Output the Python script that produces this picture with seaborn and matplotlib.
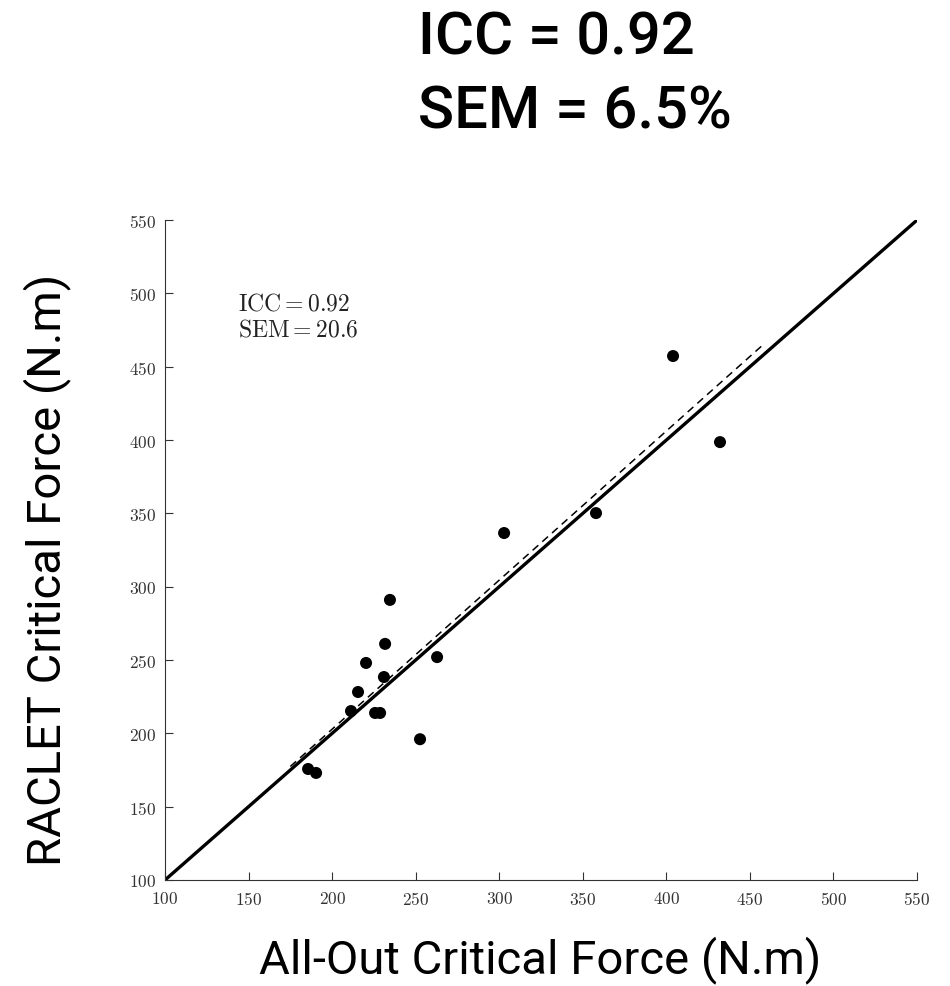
import numpy as np
import pandas as pd
import matplotlib
matplotlib.use("Agg")
import matplotlib.pyplot as plt
import seaborn as sns

# Data
all_out = [185.6, 190.4, 211.3, 215.5, 220.3, 225.7, 228.7, 231.0, 231.7, 234.6,
           252.6, 262.8, 302.9, 357.9, 404.0, 432.1]
raclet = [175.7, 173.0, 215.2, 228.2, 248.0, 213.9, 213.9, 238.4, 261.0, 291.0,
          196.0, 252.0, 336.6, 350.2, 457.3, 398.6]
identity = [100, 550]
fit_range = [175, 457]
ticks = [100, 150, 200, 250, 300, 350, 400, 450, 500, 550]
title_lines = ["ICC = 0.92", "SEM = 6.5%"]
inset_lines = [r"$\mathrm{ICC} = 0.92$", r"$\mathrm{SEM} = 20.6$"]
xlabel = "All-Out Critical Force (N.m)"
ylabel = "RACLET Critical Force (N.m)"

sns.set_theme(style="ticks")
plt.rcParams["mathtext.fontset"] = "cm"
plt.rcParams["font.family"] = ["Roboto", "DejaVu Sans"]

df = pd.DataFrame({"x": all_out, "y": raclet})
slope, intercept = np.polyfit(df["x"], df["y"], 1)
fit_df = pd.DataFrame({"x": fit_range, "y": [intercept + slope * v for v in fit_range]})
id_df = pd.DataFrame({"x": identity, "y": identity})

fig = plt.figure(figsize=(9.5, 9.87), dpi=100)
ax = fig.add_axes([0.1737, 0.1074, 0.7916, 0.6686])

sns.lineplot(data=id_df, x="x", y="y", ax=ax, color="black", linewidth=2.4)
sns.lineplot(data=fit_df, x="x", y="y", ax=ax, color="black", linewidth=1.1,
             linestyle=(0, (5, 3.5)))
sns.scatterplot(data=df, x="x", y="y", ax=ax, color="black", s=75,
                edgecolor="none", zorder=5)

ax.set_xlim(100, 550)
ax.set_ylim(100, 550)
ax.set_xticks(ticks)
ax.set_yticks(ticks)
ax.set_xticklabels([f"${t}$" for t in ticks])
ax.set_yticklabels([f"${t}$" for t in ticks])
ax.tick_params(direction="in", length=6, width=0.8, colors="#333333",
               labelsize=12.5, labelcolor="#333333")
ax.tick_params(axis="x", pad=7)
ax.tick_params(axis="y", pad=6)
for s in ["top", "right"]:
    ax.spines[s].set_visible(False)
for s in ["left", "bottom"]:
    ax.spines[s].set_linewidth(0.8)
    ax.spines[s].set_color("#333333")
ax.set_xlabel("")
ax.set_ylabel("")

ax.text(143.7, 489.3, inset_lines[0], fontsize=17, va="baseline", ha="left",
        color="#222222")
ax.text(143.7, 471.1, inset_lines[1], fontsize=17, va="baseline", ha="left",
        color="#222222")

fig.text(0.44, 0.9615, title_lines[0], fontsize=43, fontweight="medium",
         ha="left", va="center", color="black")
fig.text(0.44, 0.8865, title_lines[1], fontsize=43, fontweight="medium",
         ha="left", va="center", color="black")

fig.text(0.569, 0.027, xlabel, fontsize=34, ha="center", va="center",
         color="black")
fig.text(0.05, 0.4225, ylabel, fontsize=34, ha="center", va="center",
         rotation=90, color="black")

fig.savefig("out.png", dpi=100)
